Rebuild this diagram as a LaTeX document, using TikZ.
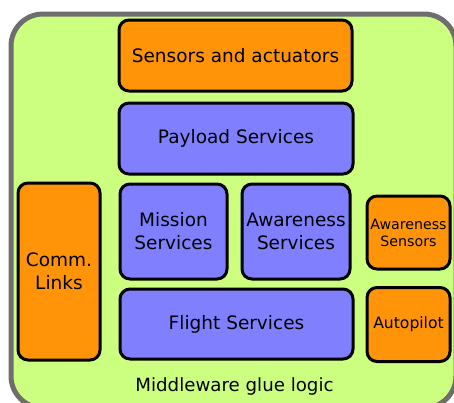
\documentclass[tikz,border=0pt]{standalone}
\usepackage{fontspec}
\setmainfont{DejaVu Sans}
\definecolor{glue}{RGB}{204,255,128}
\definecolor{frame}{RGB}{110,110,110}
\definecolor{hw}{RGB}{255,148,8}
\definecolor{svc}{RGB}{128,128,255}
\tikzset{
  blk/.style={draw=black, line width=3pt, rounded corners=10pt, align=center,
    inner sep=0pt, font=\fontsize{18.5}{23}\selectfont},
  hwbox/.style={blk, fill=hw},
  svcbox/.style={blk, fill=svc},
  small/.style={font=\fontsize{14.2}{17}\selectfont},
  mid/.style={font=\fontsize{15.6}{18}\selectfont},
}
\begin{document}
\begin{tikzpicture}[x=1pt,y=-1pt]
  \useasboundingbox (0,0) rectangle (454,402);
  \clip (0,0) rectangle (454,402);
  % middleware frame
  \draw[fill=glue, draw=frame, line width=5pt, rounded corners=32pt]
    (11,14) rectangle (456,408);
  % layers
  \node[hwbox, minimum width=233pt, minimum height=71pt] (sens) at (235.5,55.5) {Sensors and actuators};
  \node[svcbox, minimum width=234pt, minimum height=71pt] (pay) at (236,138.5) {Payload Services};
  \node[svcbox, minimum width=107pt, minimum height=95pt] (mis) at (173.5,231.5) {Mission\\Services};
  \node[svcbox, minimum width=108pt, minimum height=95pt] (awsv) at (296,231.5) {Awareness\\Services};
  \node[svcbox, minimum width=233pt, minimum height=70pt] (fly) at (236.5,324) {Flight Services};
  \node[hwbox, minimum width=82pt, minimum height=177pt] (comm) at (59,271.5) {Comm.\\Links};
  \node[hwbox, small, minimum width=83pt, minimum height=73pt] (awsn) at (408.5,232.5) {Awareness\\Sensors};
  \node[hwbox, mid, minimum width=83pt, minimum height=74pt] (ap) at (408.5,324.5) {Autopilot};
  \node[font=\fontsize{18.2}{21}\selectfont] (mw) at (234.5,386) {Middleware glue logic};
\end{tikzpicture}
\end{document}
